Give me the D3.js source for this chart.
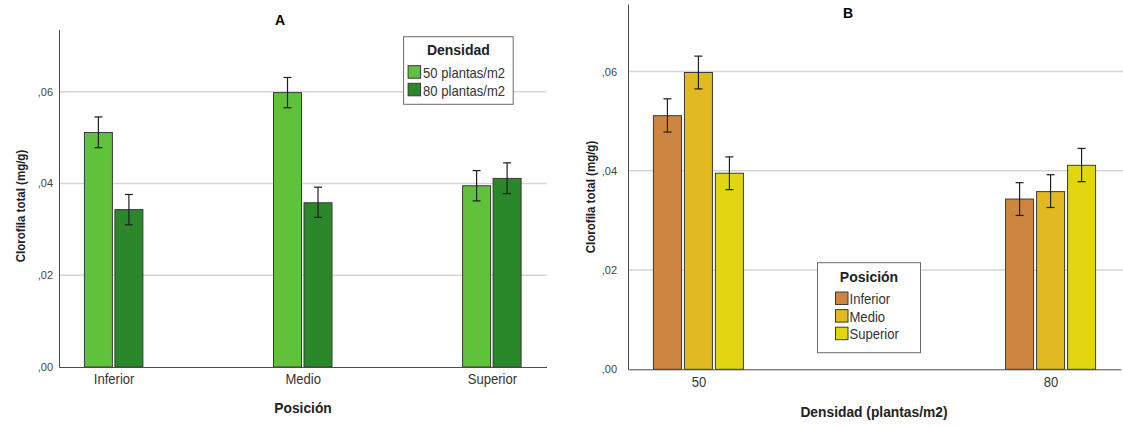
<!DOCTYPE html>
<html>
<head>
<meta charset="utf-8">
<script src="https://cdn.jsdelivr.net/npm/d3@7"></script>
<style>
    body { margin: 0; background: #fff; }
    svg text { font-family: "Liberation Sans", Arial, sans-serif; }
    .d3-axis .domain { stroke: #4a4a4a; stroke-width: 1; }
    .y.d3-axis text { font-size: 11px; fill: #444; }
    .x.d3-axis text { font-size: 15px; fill: #333; }
    .d3-grid { stroke: #d6d6d6; stroke-width: 1.5; }
    .d3-bar { stroke: #3a3a3a; stroke-width: 1; }
    .d3-err { stroke: #1e1e1e; stroke-width: 1.2; fill: none; }
    .panel-title { font-size: 14px; font-weight: bold; fill: #000; }
    .axis-title { font-size: 13.8px; font-weight: bold; fill: #222; }
    .y-title { font-size: 12.5px; font-weight: bold; fill: #222; }
    .legend-box { fill: #fff; stroke: #6a6a6a; stroke-width: 1; }
    .legend-title { font-size: 14px; font-weight: bold; fill: #222; }
    .legend-item { font-size: 15px; fill: #333; }
</style>
</head>
<body>
<svg id="chart" width="1123" height="427"></svg>
<script>
// categories
var posiciones = ["Inferior", "Medio", "Superior"];
var densidades = ["50", "80"];
var densidadLabels = ["50 plantas/m2", "80 plantas/m2"];

// means (mg/g), one array per density, in posiciones order
var media50 = [0.0511, 0.0598, 0.0395];
var media80 = [0.0343, 0.0358, 0.0411];

// error bar ends
var ciBajo50 = [0.0478, 0.0565, 0.0362];
var ciAlto50 = [0.0545, 0.0631, 0.0428];
var ciBajo80 = [0.0310, 0.0326, 0.0378];
var ciAlto80 = [0.0376, 0.0392, 0.0445];

// y axis
var yMax = 0.0736;
var yTicks = [0, 0.02, 0.04, 0.06];
var yTickLabels = [",00", ",02", ",04", ",06"];

var coloresDensidad = ["#60c23a", "#2a872a"];
var coloresPosicion = ["#cd853f", "#e0ba20", "#e2d610"];

var ClorofilaChart = (function() {
    var my = {};

    my.buildItems = function() {
        var items = [];
        posiciones.forEach(function(p, i) {
            items.push({pos: p, dens: "50", v: media50[i], lo: ciBajo50[i], hi: ciAlto50[i]});
            items.push({pos: p, dens: "80", v: media80[i], lo: ciBajo80[i], hi: ciAlto80[i]});
        });
        return items;
    };

    // the source picture is squeezed sideways, so narrow some labels the same way
    my.squish = function(sel, k) {
        sel.each(function() {
            var w = this.getComputedTextLength();
            d3.select(this)
                .attr("textLength", w * k)
                .attr("lengthAdjust", "spacingAndGlyphs");
        });
    };

    my.drawPanel = function(svg, items, c) {
        var g = svg.append("g");

        var x = d3.scalePoint()
            .domain(c.groups)
            .range([c.left, c.right])
            .padding(c.padding);

        var y = d3.scaleLinear()
            .domain([0, yMax])
            .range([c.bottom, c.top]);

        var step = c.barWidth + c.gap;
        var groupW = c.subs.length * step - c.gap;
        var sub = d3.scaleBand()
            .domain(c.subs)
            .range([-groupW / 2, groupW / 2])
            .paddingInner(c.gap / step);

        var color = d3.scaleOrdinal().domain(c.subs).range(c.colors);

        // grid
        g.selectAll(".d3-grid")
            .data(yTicks.filter(function(d) { return d > 0; }))
            .enter().append("line")
            .attr("class", "d3-grid")
            .attr("x1", c.left)
            .attr("x2", c.gridRight)
            .attr("y1", function(d) { return y(d); })
            .attr("y2", function(d) { return y(d); });

        // bars
        g.selectAll(".d3-bar")
            .data(items)
            .enter().append("rect")
            .attr("class", "d3-bar")
            .attr("x", function(d) { return x(d[c.groupKey]) + sub(d[c.subKey]); })
            .attr("width", sub.bandwidth())
            .attr("y", function(d) { return y(d.v); })
            .attr("height", function(d) { return y(0) - y(d.v); })
            .style("fill", function(d) { return color(d[c.subKey]); });

        // error bars
        var err = g.selectAll(".err")
            .data(items)
            .enter().append("g")
            .attr("transform", function(d) {
                return "translate(" + (x(d[c.groupKey]) + sub(d[c.subKey]) + sub.bandwidth() / 2) + ",0)";
            });
        err.append("line").attr("class", "d3-err")
            .attr("x1", 0).attr("x2", 0)
            .attr("y1", function(d) { return y(d.lo); })
            .attr("y2", function(d) { return y(d.hi); });
        err.append("line").attr("class", "d3-err")
            .attr("x1", -4).attr("x2", 4)
            .attr("y1", function(d) { return y(d.hi); })
            .attr("y2", function(d) { return y(d.hi); });
        err.append("line").attr("class", "d3-err")
            .attr("x1", -4).attr("x2", 4)
            .attr("y1", function(d) { return y(d.lo); })
            .attr("y2", function(d) { return y(d.lo); });

        // axes
        g.append("g")
            .attr("class", "y d3-axis")
            .attr("transform", "translate(" + c.left + ",0)")
            .call(d3.axisLeft(y)
                .tickValues(yTicks)
                .tickFormat(function(d, i) { return yTickLabels[i]; })
                .tickSize(0)
                .tickPadding(c.yTickPad));

        g.append("g")
            .attr("class", "x d3-axis")
            .attr("transform", "translate(0," + c.bottom + ")")
            .call(d3.axisBottom(x)
                .tickSize(0)
                .tickPadding(c.xTickPad));

        g.selectAll(".d3-axis").attr("font-family", null).attr("font-size", null);
        my.squish(g.selectAll(".x.d3-axis text"), 0.87);

        // titles
        g.append("text")
            .attr("class", "panel-title")
            .attr("x", c.title[1]).attr("y", c.title[2])
            .style("text-anchor", "middle")
            .text(c.title[0]);

        g.append("text")
            .attr("class", "axis-title")
            .attr("x", c.xTitle[1]).attr("y", c.xTitle[2])
            .style("text-anchor", "middle")
            .text(c.xTitle[0]);

        var yt = g.append("text")
            .attr("class", "y-title")
            .attr("transform", "translate(" + c.yTitle[0] + "," + c.yTitle[1] + ") rotate(-90)")
            .style("text-anchor", "middle")
            .text("Clorofila total (mg/g)");
        my.squish(yt, 0.92);

        // legend
        var L = c.legend;
        var lg = g.append("g").attr("transform", "translate(" + L.x + "," + L.y + ")");
        lg.append("rect")
            .attr("class", "legend-box")
            .attr("width", L.w).attr("height", L.h);
        lg.append("text")
            .attr("class", "legend-title")
            .attr("x", L.w / 2).attr("y", L.titleY)
            .style("text-anchor", "middle")
            .text(L.title);
        var row = lg.selectAll(".row")
            .data(L.labels)
            .enter().append("g")
            .attr("transform", function(d, i) { return "translate(" + L.swX + "," + (L.swY + i * 17.6) + ")"; });
        row.append("rect")
            .attr("class", "d3-bar")
            .attr("width", 12.5).attr("height", 12.5)
            .style("fill", function(d, i) { return c.colors[i]; });
        var lt = row.append("text")
            .attr("class", "legend-item")
            .attr("x", L.textDx).attr("y", 7)
            .attr("dy", "0.35em")
            .text(function(d) { return d; });
        my.squish(lt, 0.87);
    };
    return my;
}());

var svg = d3.select("#chart");
var items = ClorofilaChart.buildItems();

ClorofilaChart.drawPanel(svg, items, {
    left: 59, right: 546.5, gridRight: 546.5, top: 29.3, bottom: 367,
    padding: 0.289, groups: posiciones, subs: densidades,
    groupKey: "pos", subKey: "dens", colors: coloresDensidad,
    barWidth: 28, gap: 2.5, yTickPad: 6, xTickPad: 6,
    title: ["A", 280, 25], xTitle: ["Posición", 303, 413], yTitle: [25, 206],
    legend: {x: 403.6, y: 36.7, w: 109.6, h: 67.6, title: "Densidad", titleY: 18.5,
             swX: 4.5, swY: 29, textDx: 15, labels: densidadLabels}
});

ClorofilaChart.drawPanel(svg, items, {
    left: 628, right: 1121, gridRight: 1123, top: 4, bottom: 369.3,
    padding: 0.2, groups: densidades, subs: posiciones,
    groupKey: "dens", subKey: "pos", colors: coloresPosicion,
    barWidth: 28, gap: 3, yTickPad: 11, xTickPad: 7,
    title: ["B", 848, 17.5], xTitle: ["Densidad (plantas/m2)", 874, 417], yTitle: [595, 197],
    legend: {x: 817.5, y: 262.7, w: 103, h: 90, title: "Posición", titleY: 19,
             swX: 18, swY: 29.3, textDx: 14, labels: posiciones}
});
</script>
</body>
</html>
